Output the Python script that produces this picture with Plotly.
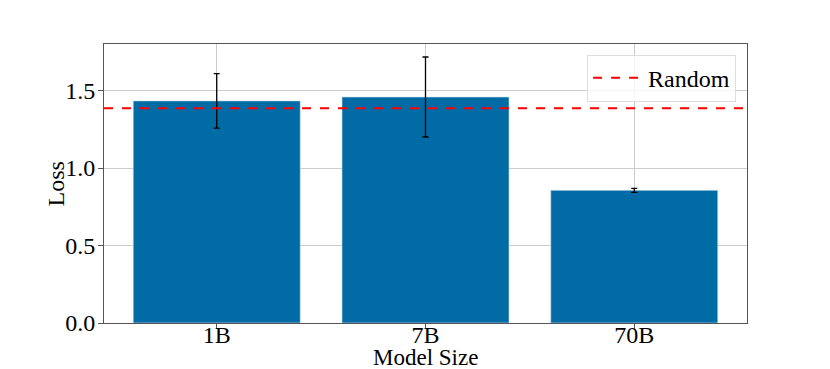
import plotly.graph_objects as go

models = ["1B", "7B", "70B"]
loss = [1.433, 1.458, 0.856]
loss_err = [0.176, 0.258, 0.013]
random_loss = 1.386

FONT = "Liberation Serif"
FS = 24
fig = go.Figure()
fig.add_trace(go.Bar(
    x=models, y=loss, width=0.8,
    marker=dict(color="#006BA4", line=dict(color="#cfe3ee", width=0.6)),
    error_y=dict(type="data", array=loss_err, color="black", thickness=1.3, width=3),
    showlegend=False,
))
fig.add_shape(type="line", xref="x domain", x0=0, x1=1, yref="y", y0=random_loss, y1=random_loss,
              line=dict(color="red", width=2, dash="dash"), showlegend=True, name="Random", layer="above")

axis_common = dict(showline=True, linecolor="#555555", linewidth=1, mirror=True,
                   showgrid=True, gridcolor="#cccccc", gridwidth=1,
                   ticks="outside", ticklen=5, tickcolor="#555555", automargin=False,
                   tickfont=dict(family=FONT, size=FS, color="black"), zeroline=False)
fig.update_xaxes(range=[-0.54, 2.54], ticklabelstandoff=-15, **axis_common)
fig.update_yaxes(range=[0, 1.80], tickvals=[0, 0.5, 1.0, 1.5], ticktext=["0.0", "0.5", "1.0", "1.5"],
                 ticklabelstandoff=-2, **axis_common)
fig.add_annotation(text="Model Size", xref="paper", yref="paper", x=0.5, y=-0.122,
                   xanchor="center", yanchor="middle", showarrow=False,
                   font=dict(family=FONT, size=23, color="black"))
fig.add_annotation(text="Loss", xref="paper", yref="paper", x=-0.0747, y=0.5, textangle=-90,
                   xanchor="center", yanchor="middle", showarrow=False,
                   font=dict(family=FONT, size=FS, color="black"))
fig.update_layout(
    width=830, height=369, margin=dict(l=104, r=83, t=44, b=46),
    plot_bgcolor="white", paper_bgcolor="white",
    legend=dict(x=0.983, y=0.962, xanchor="right", yanchor="top", bordercolor="#dddddd", borderwidth=1,
                itemwidth=50,
                bgcolor="rgba(255,255,255,0.8)", font=dict(family=FONT, size=FS, color="black")),
)
fig.write_html("out.html", post_script="document.body.style.margin='0';",
               config={"displayModeBar": False})
